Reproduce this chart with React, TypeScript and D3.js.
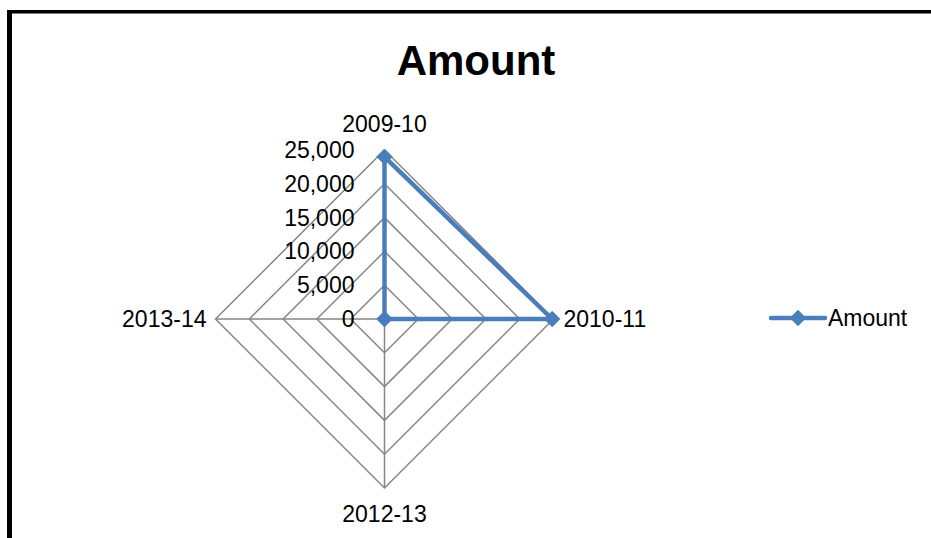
import React from "react";
import * as d3 from "d3";

const categories = ["2009-10", "2010-11", "2012-13", "2013-14"];
const amountValues = [24000, 24800, 0, 0];
const tickValues = [0, 5000, 10000, 15000, 20000, 25000];
const seriesName = "Amount";
const chartTitle = "Amount";

const W = 931;
const H = 538;
const cx = 384.5;
const cy = 319;
const R = 169;
const FONT = "'Liberation Sans', Arial, sans-serif";
const BLUE = "#4A7EBB";
const GRID = "#868686";

export default function App() {
  const r = d3.scaleLinear().domain([0, 25000]).range([0, R]);
  const n = categories.length;
  const angle = (i: number) => (i * 2 * Math.PI) / n; // 0 = up, clockwise
  const pt = (i: number, v: number): [number, number] => [
    cx + r(v) * Math.sin(angle(i)),
    cy - r(v) * Math.cos(angle(i)),
  ];
  const fmt = d3.format(",");

  const ringLine = d3.line<number>().x((_, i) => pt(i, 0)[0]);
  const ringPath = (v: number) => {
    const pts = categories.map((_, i) => pt(i, v));
    return d3.line()(pts.concat([pts[0]])) || "";
  };
  const seriesPts = amountValues.map((v, i) => pt(i, v));
  const seriesPath = d3.line()(seriesPts.concat([seriesPts[0]])) || "";
  const diamond = d3.symbol().type(d3.symbolDiamond2).size(150)() || "";
  void ringLine;

  const labelPos = [
    { dx: 0, dy: -18, anchor: "middle", base: "auto" },
    { dx: 10, dy: 8, anchor: "start", base: "auto" },
    { dx: 0, dy: 34, anchor: "middle", base: "auto" },
    { dx: -9, dy: 8, anchor: "end", base: "auto" },
  ];

  return (
    <svg
      width={W}
      height={H}
      style={{ position: "absolute", left: 0, top: 0, background: "#fff" }}
      fontFamily={FONT}
    >
      <rect x={0} y={0} width={W} height={H} fill="#fff" />
      {/* border */}
      <line x1={9.5} y1={10} x2={9.5} y2={H} stroke="#000" strokeWidth={5} />
      <line x1={7} y1={11.75} x2={W} y2={11.75} stroke="#000" strokeWidth={3.5} />

      <text x={476} y={75} textAnchor="middle" fontSize={42} fontWeight="bold" fill="#000">
        {chartTitle}
      </text>

      {/* grid rings */}
      {tickValues.slice(1).map((v) => (
        <path key={v} d={ringPath(v)} fill="none" stroke={GRID} strokeWidth={1.5} />
      ))}
      {/* spokes */}
      {categories.map((c, i) => {
        const [x, y] = pt(i, 25000);
        return <line key={c} x1={cx} y1={cy} x2={x} y2={y} stroke={GRID} strokeWidth={1.5} />;
      })}

      {/* tick labels */}
      {tickValues.map((v) => (
        <text
          key={v}
          x={cx - 30}
          y={cy - r(v) + 8}
          textAnchor="end"
          fontSize={23}
          fill="#000"
        >
          {fmt(v)}
        </text>
      ))}

      {/* category labels */}
      {categories.map((c, i) => {
        const [x, y] = pt(i, 25000);
        const p = labelPos[i];
        return (
          <text key={c} x={x + p.dx} y={y + p.dy} textAnchor={p.anchor as any} fontSize={23} fill="#000">
            {c}
          </text>
        );
      })}

      {/* series */}
      <path d={seriesPath} fill="none" stroke={BLUE} strokeWidth={4.5} strokeLinejoin="round" />
      {seriesPts.map(([x, y], i) => (
        <path key={i} d={diamond} transform={`translate(${x},${y})`} fill={BLUE} stroke={BLUE} strokeWidth={1} />
      ))}

      {/* legend */}
      <line x1={771} y1={318} x2={825} y2={318} stroke={BLUE} strokeWidth={4.5} strokeLinecap="round" />
      <path d={diamond} transform="translate(798,318)" fill={BLUE} stroke={BLUE} strokeWidth={1} />
      <text x={828} y={326} fontSize={23} fill="#000">
        {seriesName}
      </text>
    </svg>
  );
}
